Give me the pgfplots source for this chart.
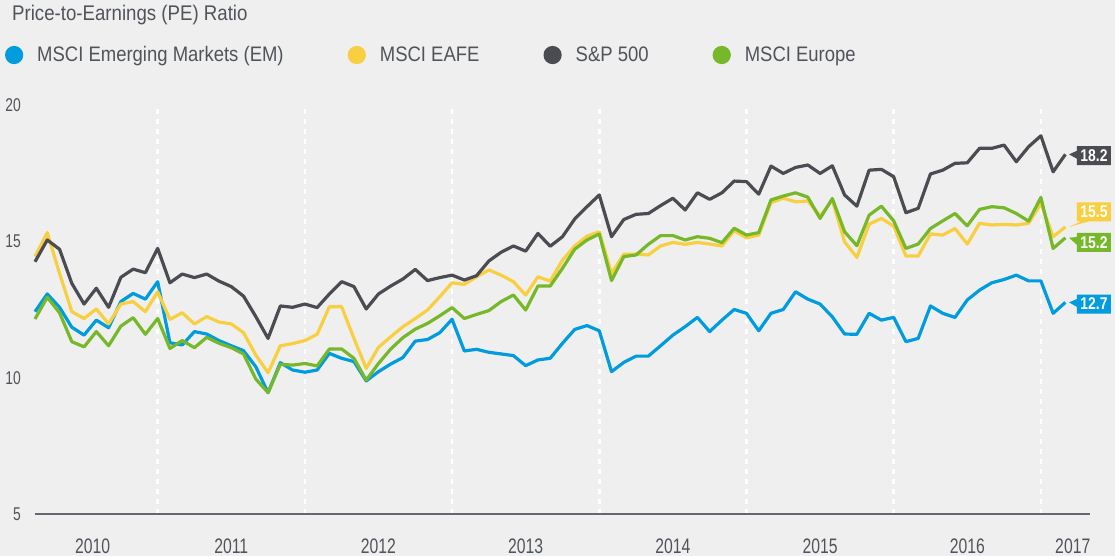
\documentclass[border=0pt]{standalone}
\usepackage{pgfplots}
\usepackage{pgfplotstable}
\pgfplotsset{compat=1.18}
\usetikzlibrary{shapes.callouts}
\usepackage{fontspec}
\setmainfont{Liberation Sans}[FakeStretch=0.88]
\newfontfamily\numfont{Liberation Sans}[FakeStretch=0.75]
\newfontfamily\lblfont{Liberation Sans}[FakeStretch=0.82]
\definecolor{bgcol}{RGB}{239,239,239}
\definecolor{txtgray}{RGB}{80,84,90}
\definecolor{axgray}{RGB}{100,104,110}
\definecolor{emblue}{RGB}{0,156,222}
\definecolor{eafeyel}{RGB}{248,207,64}
\definecolor{spgray}{RGB}{74,76,81}
\definecolor{eugreen}{RGB}{118,184,42}

\pgfplotstableread{
i em eafe sp eu
0 12.42 14.44 14.25 12.15
1 13.07 15.32 15.05 12.95
2 12.58 13.83 14.71 12.38
3 11.85 12.42 13.46 11.32
4 11.56 12.17 12.70 11.13
5 12.11 12.52 13.28 11.69
6 11.83 11.97 12.58 11.17
7 12.79 12.70 13.68 11.89
8 13.09 12.79 13.98 12.20
9 12.88 12.42 13.85 11.59
10 13.52 13.15 14.74 12.17
11 11.28 12.14 13.48 11.07
12 11.20 12.38 13.80 11.36
13 11.69 11.97 13.67 11.10
14 11.60 12.24 13.80 11.48
15 11.36 12.04 13.54 11.26
16 11.17 11.97 13.34 11.10
17 10.99 11.65 12.99 10.87
18 10.40 10.83 12.24 9.95
19 9.45 10.18 11.44 9.45
20 10.55 11.17 12.63 10.49
21 10.28 11.25 12.58 10.46
22 10.20 11.36 12.70 10.52
23 10.28 11.59 12.57 10.43
24 10.89 12.60 13.07 11.05
25 10.71 12.60 13.52 11.05
26 10.59 11.44 13.34 10.71
27 9.88 10.34 12.52 9.91
28 10.22 11.11 13.07 10.52
29 10.50 11.50 13.36 11.05
30 10.74 11.87 13.62 11.47
31 11.34 12.17 13.97 11.78
32 11.40 12.48 13.56 11.99
33 11.65 12.97 13.67 12.27
34 12.14 13.48 13.76 12.57
35 10.98 13.42 13.58 12.17
36 11.04 13.70 13.74 12.32
37 10.93 13.95 14.28 12.46
38 10.87 13.76 14.60 12.79
39 10.81 13.52 14.83 13.03
40 10.44 13.03 14.64 12.48
41 10.65 13.70 15.29 13.36
42 10.71 13.54 14.82 13.36
43 11.26 14.31 15.17 14.01
44 11.77 14.83 15.82 14.71
45 11.91 15.19 16.27 15.05
46 11.72 15.35 16.70 15.27
47 10.22 13.82 15.17 13.56
48 10.56 14.53 15.80 14.44
49 10.79 14.53 15.99 14.50
50 10.79 14.50 16.02 14.89
51 11.17 14.83 16.31 15.21
52 11.56 14.96 16.58 15.21
53 11.87 14.89 16.15 15.05
54 12.21 14.96 16.78 15.17
55 11.69 14.90 16.54 15.11
56 12.11 14.83 16.78 14.95
57 12.50 15.39 17.21 15.48
58 12.36 15.13 17.19 15.23
59 11.72 15.23 16.73 15.32
60 12.36 16.42 17.76 16.52
61 12.50 16.58 17.49 16.66
62 13.15 16.45 17.71 16.78
63 12.88 16.48 17.80 16.62
64 12.70 15.93 17.49 15.84
65 12.23 16.51 17.77 16.57
66 11.60 14.98 16.70 15.35
67 11.59 14.41 16.29 14.84
68 12.36 15.63 17.61 15.96
69 12.11 15.84 17.64 16.29
70 12.21 15.56 17.37 15.75
71 11.32 14.46 16.05 14.74
72 11.44 14.46 16.21 14.90
73 12.63 15.27 17.47 15.47
74 12.36 15.23 17.61 15.75
75 12.21 15.47 17.86 16.02
76 12.85 14.90 17.88 15.57
77 13.21 15.66 18.41 16.17
78 13.48 15.60 18.41 16.27
79 13.60 15.62 18.53 16.23
80 13.76 15.60 17.92 16.02
81 13.55 15.66 18.47 15.74
82 13.55 16.39 18.87 16.61
83 12.36 15.17 17.55 14.74
84 12.76 15.53 18.19 15.13
}\pedata

\begin{document}
\begin{tikzpicture}
\path[use as bounding box, fill=bgcol] (-35pt,-42pt) rectangle (1080pt,514pt);
\begin{axis}[
  scale only axis, width=1055pt, height=409pt,
  xmin=0, xmax=86, ymin=5, ymax=20,
  clip=false,
  axis line style={draw=none},
  tick style={draw=none},
  major tick length=0pt,
  /pgf/number format/assume math mode=true,
  ytick={10,15,20},
  extra y ticks={5},
  extra y tick style={grid=major, major grid style={line width=1.6pt, color=axgray}},
  yticklabel style={font=\numfont\fontsize{18.5}{18.5}\selectfont, text=txtgray, anchor=east, inner sep=0pt, xshift=-14pt},
  xtick={4.7,16,28,40,52,64,76,84.6},
  xticklabels={2010,\raisebox{-3pt}{2011},2012,2013,2014,\raisebox{-3pt}{2015},2016,2017},
  xticklabel style={font=\numfont\fontsize{21}{21}\selectfont, text=txtgray, anchor=center, inner sep=0pt, yshift=-32.5pt},
  extra x ticks={10,22,34,46,58,70,82},
  extra x tick labels={},
  extra x tick style={grid=major, major grid style={white, line width=2.6pt, dash pattern=on 5pt off 5pt}},
  title={Price-to-Earnings (PE) Ratio},
  title style={at={(axis description cs:-0.0218,1.1907)}, anchor=base west, font=\fontsize{21.2}{21.2}\selectfont, text=txtgray, inner sep=0pt},
  legend columns=4,
  legend image code/.code={\fill (7.5pt,0pt) circle (7.5pt);},
  legend style={at={(-0.0284,1.1222)}, anchor=west, draw=none, fill=none, inner sep=0pt, outer sep=0pt,
    font=\fontsize{21}{21}\selectfont, text=txtgray,
    nodes={inner sep=0pt},
    /tikz/every odd column/.append style={column sep=14pt},
    /tikz/every even column/.append style={column sep=64pt}},
  every axis plot/.append style={line width=3.2pt, line join=round},
]
\addplot[color=emblue] table[x=i, y=em] {\pedata};
\addlegendentry{MSCI Emerging Markets (EM)}
\addplot[color=eafeyel] table[x=i, y=eafe] {\pedata};
\addlegendentry{MSCI EAFE}
\addplot[color=spgray] table[x=i, y=sp] {\pedata};
\addlegendentry{S\&P 500}
\addplot[color=eugreen] table[x=i, y=eu] {\pedata};
\addlegendentry{MSCI Europe}

\tikzset{endlbl/.style={rectangle callout, text=white, font=\lblfont\bfseries\fontsize{17}{17}\selectfont, minimum width=34pt, minimum height=19pt, inner sep=0pt, callout pointer width=8pt}}
\node[endlbl, fill=spgray, callout absolute pointer={(axis cs:84.3,18.19)}] at (axis cs:86.33,18.14) {18.2};
\node[endlbl, fill=eafeyel, callout absolute pointer={(axis cs:84.3,15.53)}] at (axis cs:86.33,16.08) {15.5};
\node[endlbl, fill=eugreen, callout absolute pointer={(axis cs:84.3,15.13)}] at (axis cs:86.33,14.96) {15.2};
\node[endlbl, fill=emblue, callout absolute pointer={(axis cs:84.3,12.76)}] at (axis cs:86.33,12.70) {12.7};
\end{axis}
\end{tikzpicture}
\end{document}
